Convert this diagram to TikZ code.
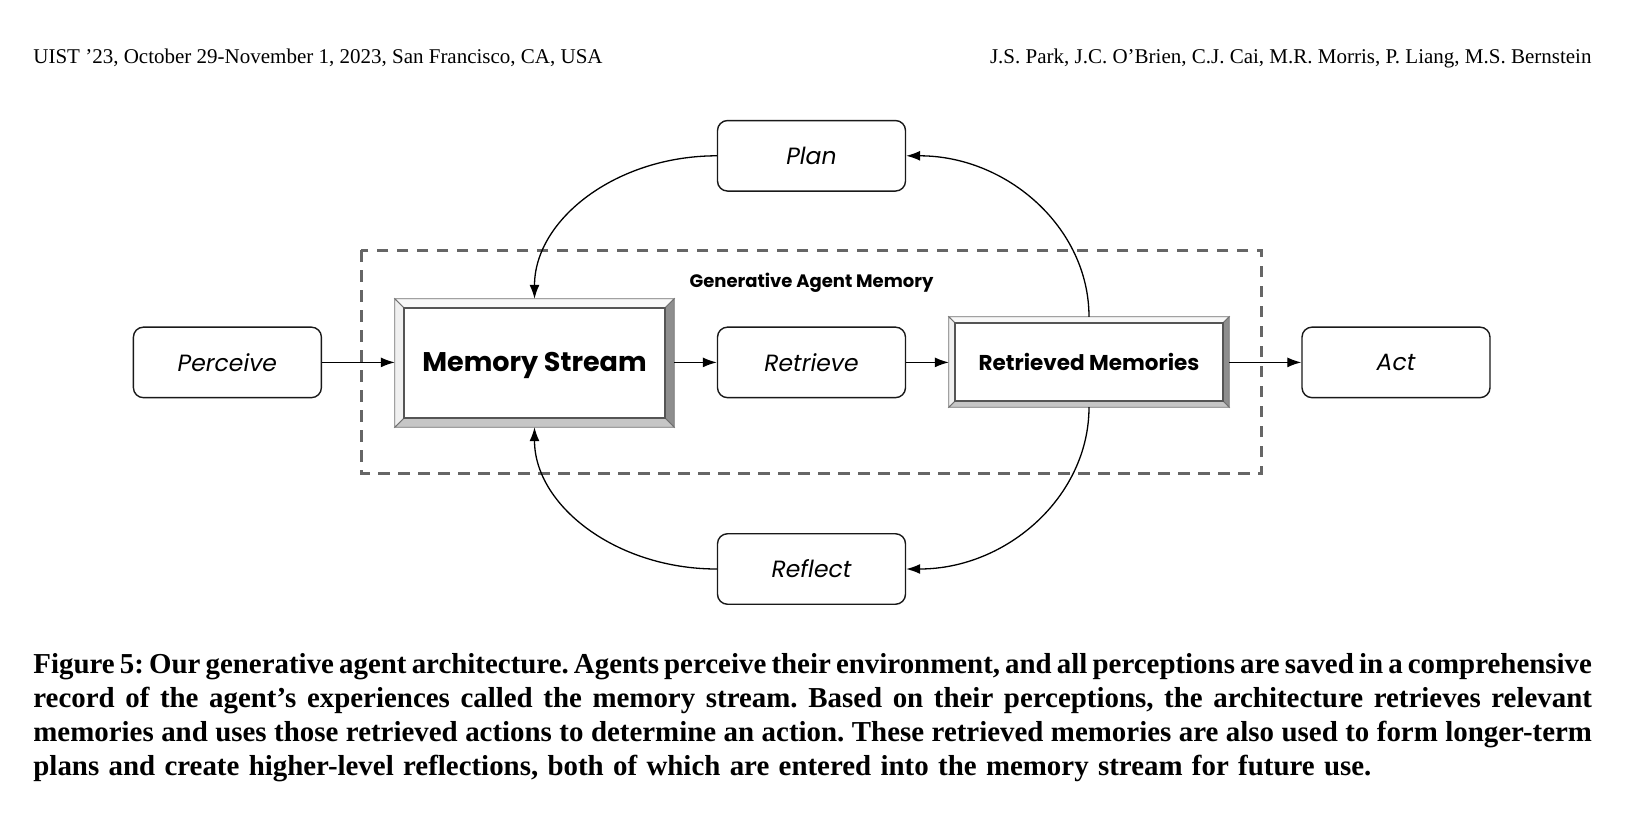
\documentclass[tikz,border=0pt]{standalone}
\usepackage{fontspec}
\setmainfont{Liberation Serif}
\newfontfamily\pop{Poppins}
\usetikzlibrary{arrows.meta,calc}
\definecolor{dashgray}{HTML}{666666}
\definecolor{facetop}{HTML}{F8F8F8}
\definecolor{faceleft}{HTML}{F0F0F0}
\definecolor{faceright}{HTML}{8E8E8E}
\definecolor{facebottom}{HTML}{C6C6C6}
\definecolor{bevline}{HTML}{707070}
\definecolor{bevinner}{HTML}{555555}
\newcommand\bevelfaces[2]{%
  \path (#1.north west) coordinate (#1a) (#1.north east) coordinate (#1b)
        (#1.south east) coordinate (#1c) (#1.south west) coordinate (#1d);
  \path ($(#1a)+(#2,#2)$) coordinate (#1ai) ($(#1b)+(-#2,#2)$) coordinate (#1bi)
        ($(#1c)+(-#2,-#2)$) coordinate (#1ci) ($(#1d)+(#2,-#2)$) coordinate (#1di);
  \filldraw[fill=facetop,draw=bevline,line width=0.8pt] (#1a)--(#1b)--(#1bi)--(#1ai)--cycle;
  \filldraw[fill=faceright,draw=bevline,line width=0.8pt] (#1b)--(#1c)--(#1ci)--(#1bi)--cycle;
  \filldraw[fill=facebottom,draw=bevline,line width=0.8pt] (#1c)--(#1d)--(#1di)--(#1ci)--cycle;
  \filldraw[fill=faceleft,draw=bevline,line width=0.8pt] (#1d)--(#1a)--(#1ai)--(#1di)--cycle;
  \draw[bevinner,line width=1.5pt] (#1ai) rectangle (#1ci);
}
\frenchspacing
\begin{document}
\begin{tikzpicture}[x=1pt,y=-1pt,
  rbox/.style={draw=black!90,line width=1.4pt,rounded corners=10pt,minimum width=188pt,
    minimum height=70.5pt,inner sep=0pt,font=\pop\itshape\fontsize{23.5}{28}\selectfont},
  arr/.style={line width=1.3pt,-{Latex[length=14pt,width=10pt]}},
  bevbox/.style={inner sep=0pt,draw=none},
  hdr/.style={inner sep=0pt,font=\fontsize{21}{25}\selectfont},
  captext/.style={inner sep=0pt,anchor=base west,font=\bfseries\fontsize{28.9}{34.3}\selectfont}]
\useasboundingbox (0,0) rectangle (1628,817);
\fill[white] (0,0) rectangle (1628,817);

% header
\node[hdr,anchor=base west] (hl) at (33.2,63) {UIST ’23, October 29-November 1, 2023, San Francisco, CA, USA};
\node[hdr,anchor=base east] (hr) at (1591.7,63) {J.S. Park, J.C. O’Brien, C.J. Cai, M.R. Morris, P. Liang, M.S. Bernstein};

% dashed container
\draw[dashgray,line width=2.6pt,dash pattern=on 11.5pt off 8.5pt] (361.3,250.2) rectangle (1261.5,473.5);
\node[inner sep=0pt,font=\pop\bfseries\fontsize{18}{22}\selectfont] (gam) at (811.5,282.4) {Generative Agent Memory};

% boxes
\node[rbox] (plan) at (811.5,155.8) {Plan};
\node[rbox] (perceive) at (227.4,362.4) {Perceive};
\node[rbox] (retrieve) at (811.5,362.4) {Retrieve};
\node[rbox] (reflect) at (811.5,569) {Reflect};
\node[rbox] (act) at (1396,362.4) {Act};

\node[bevbox,minimum width=279pt,minimum height=128pt] (ms) at (534.5,363) {};
\bevelfaces{ms}{9}
\node[inner sep=0pt,font=\pop\bfseries\fontsize{27}{32}\selectfont] (mstxt) at ($(ms.center)+(0,2.5)$) {Memory Stream};

\node[bevbox,minimum width=280pt,minimum height=90pt] (rm) at (1089,362) {};
\bevelfaces{rm}{6}
\node[inner sep=0pt,font=\pop\bfseries\fontsize{21.5}{26}\selectfont] (rmtxt) at (rm.center) {Retrieved Memories};

% straight arrows
\draw[arr] (perceive.east) -- (perceive.east -| ms.west);
\draw[arr] (ms.east |- retrieve.west) -- (retrieve.west);
\draw[arr] (retrieve.east) -- (retrieve.east -| rm.west);
\draw[arr] (rm.east |- act.west) -- (act.west);

% curved arrows
\draw[arr] (plan.west) .. controls +(-101,0) and +(0,-79) .. (ms.north);
\draw[arr] (rm.north) .. controls +(0,-89) and +(101,0) .. (plan.east);
\draw[arr] (rm.south) .. controls +(0,89) and +(101,0) .. (reflect.east);
\draw[arr] (reflect.west) .. controls +(-101,0) and +(0,78) .. (ms.south);

% caption
\node[captext] (c1) at (33.2,673) {\makebox[1558.5pt][s]{Figure 5: Our generative agent architecture. Agents perceive their environment, and all perceptions are saved in a comprehensive}};
\node[captext] (c2) at (33.2,707.3) {\makebox[1558.5pt][s]{record of the agent’s experiences called the memory stream. Based on their perceptions, the architecture retrieves relevant}};
\node[captext] (c3) at (33.2,741.6) {\makebox[1558.5pt][s]{memories and uses those retrieved actions to determine an action. These retrieved memories are also used to form longer-term}};
\node[captext] (c4) at (33.2,775.9) {\makebox[1338pt][s]{plans and create higher-level reflections, both of which are entered into the memory stream for future use.}};
\end{tikzpicture}
\end{document}
